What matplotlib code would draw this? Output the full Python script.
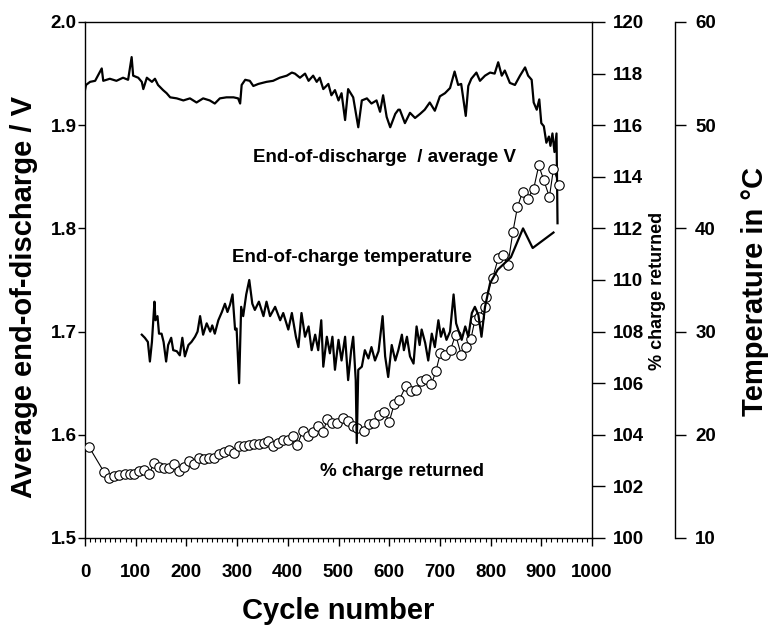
# Imports
import matplotlib
matplotlib.use("Agg")
import matplotlib.pyplot as plt
from matplotlib.ticker import MultipleLocator

plt.rcParams['font.family'] = ['Liberation Sans', 'DejaVu Sans']
plt.rcParams['font.weight'] = 'bold'

# Data: end-of-discharge average voltage (V)
cyc_v = [0, 2, 10, 20, 33, 36, 49, 62, 75, 85, 92, 95, 105, 112, 115, 122, 132, 138,
         144, 154, 161, 168, 181, 194, 207, 220, 233, 246, 256, 266, 279, 293, 302,
         306, 309, 316, 325, 332, 342, 358, 371, 384, 398, 408, 414, 424, 434, 441,
         450, 457, 463, 470, 480, 486, 493, 500, 506, 513, 519, 529, 539, 546, 556,
         565, 575, 582, 588, 595, 602, 612, 618, 621, 631, 641, 651, 661, 670, 680,
         690, 700, 710, 720, 729, 736, 742, 751, 756, 762, 772, 779, 789, 799, 808,
         815, 822, 828, 838, 848, 858, 868, 874, 881, 885, 891, 896, 900, 905, 910,
         915, 918, 922, 926, 930, 932]
volt = [1.934, 1.939, 1.942, 1.943, 1.955, 1.943, 1.945, 1.943, 1.946, 1.944, 1.966,
        1.948, 1.946, 1.942, 1.935, 1.946, 1.942, 1.945, 1.939, 1.934, 1.931, 1.927,
        1.926, 1.924, 1.926, 1.922, 1.926, 1.924, 1.921, 1.926, 1.927, 1.927, 1.926,
        1.921, 1.939, 1.944, 1.943, 1.938, 1.940, 1.942, 1.943, 1.946, 1.948, 1.951,
        1.950, 1.946, 1.950, 1.943, 1.948, 1.942, 1.946, 1.935, 1.940, 1.929, 1.934,
        1.924, 1.931, 1.905, 1.935, 1.927, 1.898, 1.924, 1.926, 1.921, 1.924, 1.913,
        1.929, 1.908, 1.898, 1.911, 1.915, 1.915, 1.902, 1.912, 1.907, 1.911, 1.915,
        1.922, 1.914, 1.928, 1.931, 1.936, 1.952, 1.939, 1.940, 1.909, 1.938, 1.945,
        1.951, 1.943, 1.948, 1.951, 1.950, 1.961, 1.948, 1.953, 1.941, 1.939, 1.948,
        1.956, 1.948, 1.944, 1.922, 1.915, 1.925, 1.902, 1.899, 1.883, 1.889, 1.880,
        1.892, 1.874, 1.892, 1.805]

# Data: end-of-charge temperature (deg C)
cyc_t = [112, 118, 124, 128, 132, 137, 139, 143, 146, 151, 155, 160, 164, 170, 174,
         181, 187, 192, 197, 204, 210, 217, 222, 227, 233, 240, 247, 251, 256, 263,
         270, 276, 281, 286, 291, 296, 299, 304, 308, 312, 318, 324, 330, 335, 343,
         352, 358, 365, 375, 385, 391, 401, 408, 416, 421, 427, 434, 441, 447, 454,
         460, 466, 470, 477, 483, 488, 493, 500, 506, 513, 519, 525, 529, 534, 536,
         539, 546, 552, 559, 565, 572, 579, 587, 592, 598, 605, 612, 618, 625, 629,
         635, 641, 648, 654, 660, 664, 671, 677, 684, 690, 697, 702, 707, 713, 720,
         727, 732, 736, 743, 750, 756, 763, 769, 776, 782, 789, 799, 814, 840, 864,
         883, 924]
temp = [29.7, 29.4, 29.0, 27.1, 29.0, 32.9, 31.1, 31.5, 29.8, 29.8, 29.0, 27.1, 28.7,
        29.4, 28.2, 28.1, 27.7, 29.4, 27.6, 28.7, 29.0, 29.5, 30.0, 31.5, 29.7, 30.8,
        30.0, 30.6, 29.8, 31.1, 31.9, 32.7, 31.9, 32.6, 33.6, 30.2, 30.3, 25.0, 32.4,
        31.5, 33.6, 35.0, 32.7, 32.1, 32.9, 31.5, 32.9, 31.5, 32.4, 31.1, 31.8, 30.2,
        31.8, 29.5, 28.5, 31.8, 29.5, 30.5, 28.2, 29.7, 28.2, 31.1, 26.6, 29.5, 27.9,
        29.5, 26.3, 29.2, 27.2, 29.5, 25.3, 28.2, 29.5, 25.3, 19.2, 26.3, 26.6, 28.2,
        27.4, 28.5, 27.2, 28.1, 31.5, 27.6, 25.6, 28.7, 27.2, 28.2, 29.7, 28.2, 29.5,
        27.6, 26.9, 30.5, 28.7, 30.2, 28.9, 27.2, 29.8, 28.5, 31.1, 29.5, 30.3, 29.2,
        30.0, 33.6, 30.8, 30.2, 29.2, 30.5, 29.5, 31.8, 32.4, 31.6, 29.5, 32.4, 34.7,
        36.0, 37.2, 40.0, 38.1, 39.6]

# Data: % charge returned
cyc_c = [8, 38, 47, 58, 68, 78, 88, 97, 107, 117, 127, 136, 146, 156, 166, 176, 186,
         196, 206, 215, 225, 235, 245, 255, 265, 274, 284, 294, 304, 314, 324, 334,
         344, 354, 360, 370, 380, 390, 400, 410, 419, 429, 439, 449, 459, 469, 478,
         488, 498, 508, 518, 528, 537, 551, 561, 570, 580, 590, 600, 610, 620, 633,
         643, 653, 663, 673, 683, 692, 701, 711, 721, 731, 742, 751, 761, 769, 778,
         788, 791, 804, 815, 824, 834, 844, 853, 863, 873, 885, 895, 905, 916, 924, 935]
charge = [103.53, 102.54, 102.34, 102.40, 102.44, 102.50, 102.50, 102.50, 102.60,
          102.65, 102.50, 102.90, 102.75, 102.70, 102.70, 102.85, 102.60, 102.75,
          103.00, 102.85, 103.10, 103.05, 103.10, 103.10, 103.25, 103.35, 103.40,
          103.30, 103.55, 103.55, 103.60, 103.65, 103.65, 103.70, 103.75, 103.55,
          103.70, 103.80, 103.80, 103.95, 103.60, 104.15, 103.95, 104.10, 104.35,
          104.10, 104.60, 104.45, 104.45, 104.65, 104.55, 104.35, 104.25, 104.15,
          104.40, 104.45, 104.75, 104.90, 104.50, 105.20, 105.35, 105.90, 105.70,
          105.75, 106.07, 106.15, 105.95, 106.46, 107.17, 107.10, 107.30, 107.88,
          107.10, 107.40, 107.70, 108.45, 108.58, 108.97, 109.36, 110.07, 110.84,
          110.97, 110.58, 111.87, 112.83, 113.41, 113.15, 113.54, 114.44, 113.86,
          113.22, 114.31, 113.67]

W, H = 770, 632
fig = plt.figure(figsize=(W/100, H/100), dpi=100)
ax = fig.add_axes([85/W, 1 - 538/H, 507/W, 516/H])

# voltage
ax.plot(cyc_v, volt, "-k", lw=1.6)
ax.set_xlim(0, 1000)
ax.set_ylim(1.5, 2.0)
ax.xaxis.set_major_locator(MultipleLocator(100))
ax.xaxis.set_minor_locator(MultipleLocator(10))
ax.yaxis.set_major_locator(MultipleLocator(0.1))
ax.yaxis.set_major_formatter(plt.FormatStrFormatter('%.1f'))
ax.tick_params(axis='x', which='major', direction='out', length=6, width=1, pad=13, labelsize=13.5)
ax.tick_params(axis='x', which='minor', direction='out', length=3, width=0.8)
ax.tick_params(axis='y', direction='out', length=5, width=1, pad=1, labelsize=13.5)
ax.spines['right'].set_visible(False)
for s in ['left', 'top', 'bottom']:
    ax.spines[s].set_linewidth(1.0)

# % charge returned
ax2 = ax.twinx()
ax2.plot(cyc_c, charge, "-k", lw=0.8, marker='o', ms=6.8, mfc='white', mec='k', mew=0.8)
ax2.set_ylim(100, 120)
ax2.yaxis.set_major_locator(MultipleLocator(2))
ax2.tick_params(axis='y', direction='out', length=9, width=1, pad=6, labelsize=13.5)
for s in ['left', 'top', 'bottom']:
    ax2.spines[s].set_visible(False)
ax2.spines['right'].set_linewidth(1.0)

# temperature
ax3 = ax.twinx()
ax3.plot(cyc_t, temp, "-k", lw=1.6)
ax3.set_ylim(10, 60)
ax3.yaxis.set_major_locator(MultipleLocator(10))
ax3.spines['right'].set_position(('axes', (675 - 85)/507))
for s in ['left', 'top', 'bottom']:
    ax3.spines[s].set_visible(False)
ax3.spines['right'].set_linewidth(1.0)
ax3.tick_params(axis='y', direction='out', length=8, width=1, pad=6.5, labelsize=13.5)

# annotations
ax.text(331, 1.869, "End-of-discharge  / average V", fontsize=13.5, fontweight='bold', va='center')
ax.text(290, 1.772, "End-of-charge temperature", fontsize=13.5, fontweight='bold', va='center')
ax.text(464, 1.564, "% charge returned", fontsize=13.5, fontweight='bold', va='center')

# axis labels
fig.text(338/W, 1 - 611/H, "Cycle number", fontsize=21, fontweight='bold', ha='center', va='center')
fig.text(24/W, 1 - 297/H, "Average end-of-discharge / V", fontsize=21, fontweight='bold',
         ha='center', va='center', rotation=90)
fig.text(755/W, 1 - 292/H, "Temperature in °C", fontsize=21, fontweight='bold',
         ha='center', va='center', rotation=90)
fig.text(657/W, 1 - 291/H, "% charge returned", fontsize=13, fontweight='bold',
         ha='center', va='center', rotation=90)

fig.savefig("out.png", dpi=100)
